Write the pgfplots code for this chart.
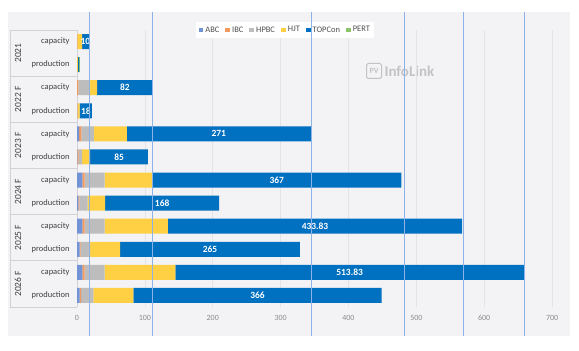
\documentclass[border=0pt]{standalone}
\usepackage{fontspec}
\setmainfont{Carlito}
\usepackage{pgfplots}
\pgfplotsset{compat=1.18}
\usepackage{pgfplotstable}

\definecolor{cABC}{RGB}{114,147,214}
\definecolor{cIBC}{RGB}{240,154,96}
\definecolor{cHPBC}{RGB}{189,189,189}
\definecolor{cHJT}{RGB}{255,207,68}
\definecolor{cTOP}{RGB}{0,112,192}
\definecolor{cPERT}{RGB}{140,194,106}
\definecolor{bg}{RGB}{243,243,246}
\definecolor{guide}{RGB}{140,178,232}
\definecolor{gridc}{RGB}{228,228,232}
\definecolor{tickc}{RGB}{140,140,140}
\definecolor{labc}{RGB}{64,64,64}
\definecolor{legc}{RGB}{80,80,80}
\definecolor{sepc}{RGB}{210,210,214}
\definecolor{wm}{RGB}{195,195,198}

\pgfplotstableread{
row ABC IBC HPBC HJT TOPCon PERT lab
0  0   0.5 0    7     10     0   10
1  0   0.3 0    1     2      1   {}
2  0   2   15.5 12    82     0   82
3  0   0.5 0.5  3     18     0   18
4  3   3.5 18.5 48.5  271    0   271
5  0.5 2   5    12    85     0   85
6  8   3.4 29.4 70    367    0   367
7  2   1.5 12   26    168    0   168
8  8   3.4 29.4 93    433.83 0   433.83
9  4   1.5 14   44    265    0   265
10 8   3.4 29.4 104   513.83 0   513.83
11 4   2   18   59    366    0   366
}\data

\begin{document}
\begin{tikzpicture}
\fill[white] (0,0) rectangle (579bp,351bp);
\fill[bg] (8bp,15bp) rectangle (570bp,339bp);
\node[text=wm, font=\bfseries\fontsize{15}{16}\selectfont, anchor=west] (il) at (381bp,280bp) {InfoLink};
\node[draw=wm, line width=1bp, rounded corners=1.5bp, text=wm, font=\bfseries\fontsize{8}{9}\selectfont, inner sep=2bp, minimum size=15bp, anchor=east] at ([xshift=1bp]il.west) {PV};

\begin{axis}[
  at={(77bp,44bp)}, anchor=south west,
  scale only axis, width=490bp, height=277bp,
  xbar stacked, bar width=15bp,
  xmin=0, xmax=722, ymin=-0.5, ymax=11.5, y dir=reverse,
  ytick={0,...,11},
  yticklabels={capacity,production,capacity,production,capacity,production,capacity,production,capacity,production,capacity,production},
  xtick={0,100,...,700},
  axis line style={draw=none}, major tick length=0,
  xmajorgrids, grid style={color=gridc, line width=0.6bp},
  xticklabel style={text=tickc, yshift=-5bp, font=\fontsize{8}{9}\selectfont},
  yticklabel style={text=labc, xshift=-4bp, font=\fontsize{8.5}{9}\selectfont},
  /pgf/number format/assume math mode=true,
  clip=false,
  legend columns=6,
  legend style={at={(axis description cs:0.425,1)}, anchor=center, draw=none, fill=white,
    font=\fontsize{8.5}{10}\selectfont, text=legc, inner sep=2.5bp,
    /tikz/every even column/.append style={column sep=4bp}},
  legend image code/.code={\fill[#1] (0bp,-2.4bp) rectangle (4.8bp,2.4bp);},
]
\addplot[fill=cABC, draw=none] table[x=ABC, y=row] {\data};
\addlegendentry{ABC}
\addplot[fill=cIBC, draw=none] table[x=IBC, y=row] {\data};
\addlegendentry{IBC}
\addplot[fill=cHPBC, draw=none] table[x=HPBC, y=row] {\data};
\addlegendentry{HPBC}
\addplot[fill=cHJT, draw=none] table[x=HJT, y=row] {\data};
\addlegendentry{HJT}
\addplot[fill=cTOP, draw=none, point meta=explicit symbolic,
  nodes near coords,
  nodes near coords align={anchor=center},
  every node near coord/.append style={anchor=center, text=white, font=\bfseries\fontsize{9.5}{10}\selectfont}
  ] table[x=TOPCon, y=row, meta=lab] {\data};
\addlegendentry{TOPCon}
\addplot[fill=cPERT, draw=none] table[x=PERT, y=row] {\data};
\addlegendentry{PERT}

% category table
\draw[sepc, line width=0.7bp] ([xshift=-67bp]axis cs:0,-0.5) -- (axis cs:0,-0.5);
\draw[sepc, line width=0.7bp] ([xshift=-67bp]axis cs:0,1.5) -- (axis cs:0,1.5);
\draw[sepc, line width=0.7bp] ([xshift=-67bp]axis cs:0,3.5) -- (axis cs:0,3.5);
\draw[sepc, line width=0.7bp] ([xshift=-67bp]axis cs:0,5.5) -- (axis cs:0,5.5);
\draw[sepc, line width=0.7bp] ([xshift=-67bp]axis cs:0,7.5) -- (axis cs:0,7.5);
\draw[sepc, line width=0.7bp] ([xshift=-67bp]axis cs:0,9.5) -- (axis cs:0,9.5);
\draw[sepc, line width=0.7bp] ([xshift=-67bp]axis cs:0,11.5) -- (axis cs:0,11.5);
\draw[sepc, line width=0.7bp] (axis cs:0,-0.5) -- (axis cs:0,11.5);
\draw[sepc, line width=0.7bp] ([xshift=-67bp]axis cs:0,-0.5) -- ([xshift=-67bp]axis cs:0,11.5);
\node[rotate=90, text=labc, font=\fontsize{9.5}{10}\selectfont] at ([xshift=-59bp]axis cs:0,0.5) {2021};
\node[rotate=90, text=labc, font=\fontsize{9.5}{10}\selectfont] at ([xshift=-59bp]axis cs:0,2.5) {2022 F};
\node[rotate=90, text=labc, font=\fontsize{9.5}{10}\selectfont] at ([xshift=-59bp]axis cs:0,4.5) {2023 F};
\node[rotate=90, text=labc, font=\fontsize{9.5}{10}\selectfont] at ([xshift=-59bp]axis cs:0,6.5) {2024 F};
\node[rotate=90, text=labc, font=\fontsize{9.5}{10}\selectfont] at ([xshift=-59bp]axis cs:0,8.5) {2025 F};
\node[rotate=90, text=labc, font=\fontsize{9.5}{10}\selectfont] at ([xshift=-59bp]axis cs:0,10.5) {2026 F};
\end{axis}

\foreach \x in {89,152,311,404,463,524} {
  \draw[guide, line width=0.8bp] (\x bp,15bp) -- (\x bp,339bp);
}
\end{tikzpicture}
\end{document}
